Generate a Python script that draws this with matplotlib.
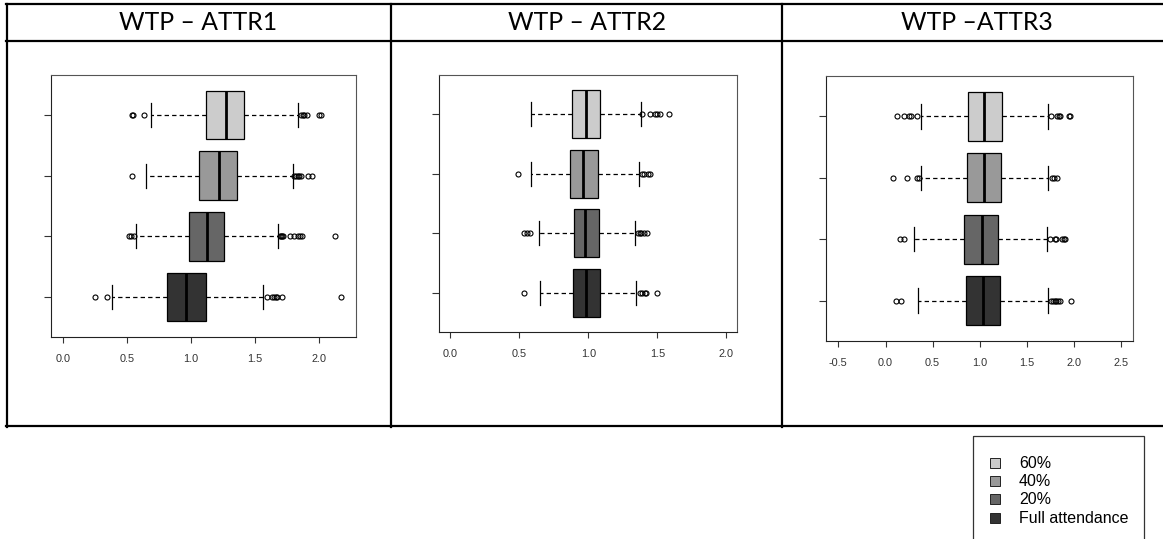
#!/usr/bin/env python3
# coding: utf-8

"""Three horizontal boxplots of WTP per attribute, laid out in a table."""

import matplotlib

matplotlib.use("Agg")
import matplotlib.pyplot as plt
from matplotlib.patches import Rectangle

W, H = 1163, 539

titles = ["WTP – ATTR1", "WTP – ATTR2", "WTP –ATTR3"]
# bottom to top: Full attendance, 20%, 40%, 60%
groups = ["Full attendance", "20%", "40%", "60%"]
colors = ["#333333", "#666666", "#999999", "#cccccc"]

attr1_whislo = [0.387, 0.571, 0.647, 0.688]
attr1_q1 = [0.816, 0.982, 1.062, 1.117]
attr1_med = [0.958, 1.125, 1.216, 1.270]
attr1_q3 = [1.119, 1.257, 1.361, 1.410]
attr1_whishi = [1.561, 1.678, 1.797, 1.831]
attr1_fliers = [
    [0.249, 0.348, 1.592, 1.634, 1.647, 1.660, 1.673, 1.709, 2.169],
    [0.519, 0.530, 0.556, 1.690, 1.700, 1.710, 1.720, 1.770, 1.800, 1.836, 1.850, 1.862, 2.120],
    [0.538, 1.805, 1.818, 1.831, 1.844, 1.857, 1.909, 1.940],
    [0.538, 0.550, 0.636, 1.857, 1.870, 1.880, 1.906, 2.000, 2.016],
]

attr2_whislo = [0.647, 0.643, 0.582, 0.587]
attr2_q1 = [0.889, 0.894, 0.870, 0.879]
attr2_med = [0.981, 0.978, 0.964, 0.981]
attr2_q3 = [1.082, 1.077, 1.072, 1.082]
attr2_whishi = [1.343, 1.341, 1.365, 1.382]
attr2_fliers = [
    [0.531, 1.372, 1.389, 1.408, 1.420, 1.498],
    [0.536, 0.556, 0.577, 1.360, 1.372, 1.384, 1.401, 1.425],
    [0.486, 1.389, 1.403, 1.432, 1.447],
    [1.391, 1.449, 1.481, 1.500, 1.519, 1.582],
]

attr3_whislo = [0.344, 0.301, 0.372, 0.372]
attr3_q1 = [0.855, 0.834, 0.866, 0.876]
attr3_med = [1.038, 1.025, 1.045, 1.042]
attr3_q3 = [1.219, 1.190, 1.222, 1.236]
attr3_whishi = [1.727, 1.716, 1.727, 1.727]
attr3_fliers = [
    [0.107, 0.160, 1.759, 1.777, 1.794, 1.811, 1.829, 1.850, 1.967],
    [0.149, 0.195, 1.745, 1.794, 1.811, 1.872, 1.889, 1.903],
    [0.084, 0.227, 0.336, 0.350, 1.770, 1.784, 1.819],
    [0.123, 0.194, 0.247, 0.265, 0.335, 1.759, 1.822, 1.836, 1.847, 1.946, 1.960],
]

xticks = [
    [0.0, 0.5, 1.0, 1.5, 2.0],
    [0.0, 0.5, 1.0, 1.5, 2.0],
    [-0.5, 0.0, 0.5, 1.0, 1.5, 2.0, 2.5],
]
xlims = [(-0.091, 2.286), (-0.083, 2.077), (-0.631, 2.624)]
# plot areas in pixels: left, top, right, bottom
boxes_px = [(51, 75, 356, 337), (439, 75, 737, 332), (826, 76, 1133, 341)]


def stats_for(whislo, q1, med, q3, whishi, fliers):
    return [
        dict(whislo=whislo[i], q1=q1[i], med=med[i], q3=q3[i], whishi=whishi[i], fliers=fliers[i])
        for i in range(len(groups))
    ]


panels = [
    stats_for(attr1_whislo, attr1_q1, attr1_med, attr1_q3, attr1_whishi, attr1_fliers),
    stats_for(attr2_whislo, attr2_q1, attr2_med, attr2_q3, attr2_whishi, attr2_fliers),
    stats_for(attr3_whislo, attr3_q1, attr3_med, attr3_q3, attr3_whishi, attr3_fliers),
]

fig = plt.figure(figsize=(W / 100, H / 100), dpi=100)

# overlay in pixel coordinates for the table frame, headers and legend
over = fig.add_axes([0, 0, 1, 1])
over.set_xlim(0, W)
over.set_ylim(H, 0)
over.axis("off")

lw_tab = 1.6
over.plot([6, W], [4.3, 4.3], color="black", lw=lw_tab)
over.plot([6, W], [41, 41], color="black", lw=lw_tab)
over.plot([6, W], [426, 426], color="black", lw=lw_tab)
for x in (7, 391, 782):
    over.plot([x, x], [3.5, 426.8], color="black", lw=lw_tab)

title_x = [198, 587, 977]
for tx, t in zip(title_x, titles):
    over.text(tx, 23, t, ha="center", va="center", fontsize=17.8, family="Lato")

# legend (bottom of frame falls outside the picture)
over.add_patch(Rectangle((973, 435.5), 171, 120, fill=False, edgecolor="#333333", lw=0.9))
leg_rows = [518.3, 499.3, 481, 463.3]
for y, g, c in zip(leg_rows, groups, colors):
    over.add_patch(Rectangle((990, y - 5), 10, 10, facecolor=c, edgecolor="#222222", lw=0.7))
    over.text(1019, y, g, ha="left", va="center", fontsize=11.5, family="Liberation Sans")

for k, stats in enumerate(panels):
    l, t, r, b = boxes_px[k]
    ax = fig.add_axes([l / W, 1 - b / H, (r - l) / W, (b - t) / H])
    bp = ax.bxp(
        stats,
        positions=[1, 2, 3, 4],
        widths=0.8,
        orientation="horizontal",
        patch_artist=True,
        capwidths=0.4,
        boxprops=dict(edgecolor="black", linewidth=0.9),
        medianprops=dict(color="black", linewidth=2.0),
        whiskerprops=dict(color="black", linewidth=0.9, linestyle=(0, (3.5, 2.5))),
        capprops=dict(color="black", linewidth=0.9),
        flierprops=dict(marker="o", markerfacecolor="none", markeredgecolor="black",
                        markersize=3.6, markeredgewidth=0.8),
    )
    for patch, c in zip(bp["boxes"], colors):
        patch.set_facecolor(c)
    ax.set_xlim(*xlims[k])
    ax.set_ylim(0.34, 4.66)
    ax.set_yticks([1, 2, 3, 4])
    ax.set_yticklabels([])
    ax.set_xticks(xticks[k])
    ax.set_xticklabels(["%.1f" % v for v in xticks[k]], family="Liberation Sans",
                       fontsize=7.8, color="#333333")
    ax.tick_params(axis="x", length=4.5, width=0.8, pad=8, color="#333333")
    ax.tick_params(axis="y", length=5, width=0.8, color="#333333")
    for s in ax.spines.values():
        s.set_linewidth(0.8)
        s.set_color("#555555")
    ax.spines["bottom"].set_color("#222222")
    ax.spines["left"].set_color("#222222")

fig.savefig("out.png", dpi=100)
